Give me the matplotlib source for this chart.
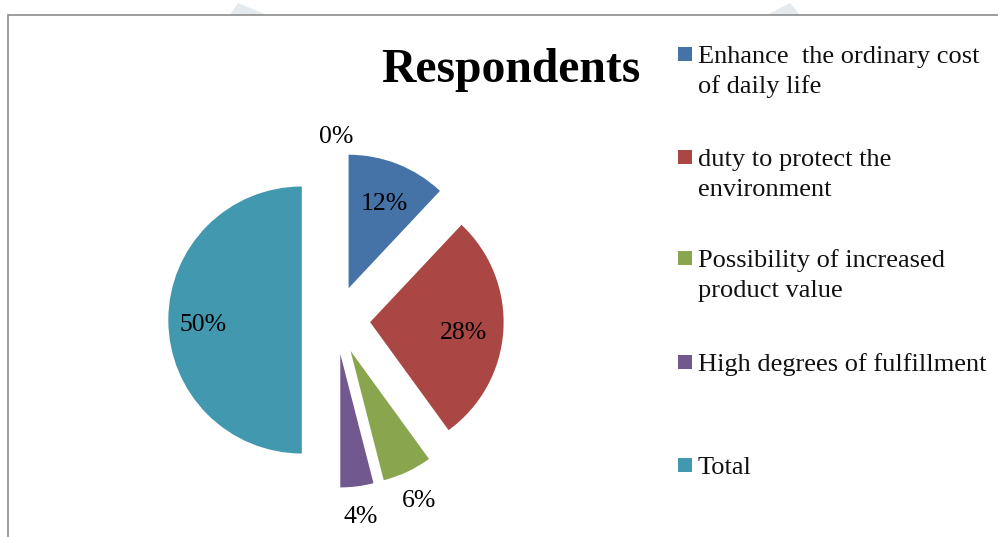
import matplotlib
matplotlib.use("Agg")
import matplotlib.pyplot as plt
from matplotlib.patches import Rectangle, Polygon
import numpy as np

# Survey shares (the leading zero is the empty header slice)
values = [0, 12, 28, 6, 4, 50]
categories = [
    "",
    "Enhance  the ordinary cost\nof daily life",
    "duty to protect the\nenvironment",
    "Possibility of increased\nproduct value",
    "High degrees of fulfillment",
    "Total",
]
colors = ["#4572A7", "#4572A7", "#AA4643", "#89A54E", "#71588F", "#4198AF"]
title = "Respondents"

W, H = 998, 537
fig = plt.figure(figsize=(W / 100, H / 100), dpi=100)
ax = fig.add_axes([0, 0, 1, 1])

serif = ["Liberation Serif", "DejaVu Serif"]

radius = 133.5
center = (336, H - 320)
# pie() offsets wedges by explode in data units
explode = [0.256 * radius] * len(values)

wedges, _ = ax.pie(values, colors=colors, startangle=90, counterclock=False,
                   radius=radius, center=center, explode=explode,
                   wedgeprops=dict(linewidth=0), frame=True)

# percentage labels: inside for big slices, outside for small ones
label_dist = [1.15, 0.72, 0.70, 1.20, 1.19, 0.74]
total = sum(values)
for w, v, d in zip(wedges, values, label_dist):
    mid = np.deg2rad((w.theta1 + w.theta2) / 2)
    cx, cy = w.center
    x = cx + d * radius * np.cos(mid)
    y = cy + d * radius * np.sin(mid) - 5
    ax.text(x, y, f"{v / total * 100:.0f}%", ha="center", va="center",
            fontsize=18.5, family=serif, color="black")

ax.text(511, H - 82, title, ha="center", va="baseline", fontsize=34.3,
        fontweight="bold", family=serif, color="black")

# legend, one block per category
first_baselines = [63, 166, 267, 371, 474]
for wcol, label, base in zip(colors[1:], categories[1:], first_baselines):
    ax.add_patch(Rectangle((678, H - base + 2), 14, 14, facecolor=wcol,
                           edgecolor="none"))
    for i, line in enumerate(label.split("\n")):
        ax.text(698, H - (base + 30 * i), line, ha="left", va="baseline",
                fontsize=19, family=serif, color="#111111")

# faint page watermark peeking above the chart frame
ax.add_patch(Polygon([(230, H - 15), (238, H - 3), (267, H - 15)],
                     closed=True, facecolor="#e4eaed", edgecolor="none"))
ax.add_patch(Polygon([(767, H - 15), (790, H - 3), (800, H - 15)],
                     closed=True, facecolor="#e4eaed", edgecolor="none"))

# chart frame
ax.plot([8, 8, W], [0, H - 15, H - 15], color="#8c8c8c", linewidth=1.2,
        solid_joinstyle="miter")

ax.set_xlim(0, W)
ax.set_ylim(0, H)
ax.set_aspect("equal", adjustable="box")
ax.axis("off")

fig.savefig("out.png", dpi=100)
